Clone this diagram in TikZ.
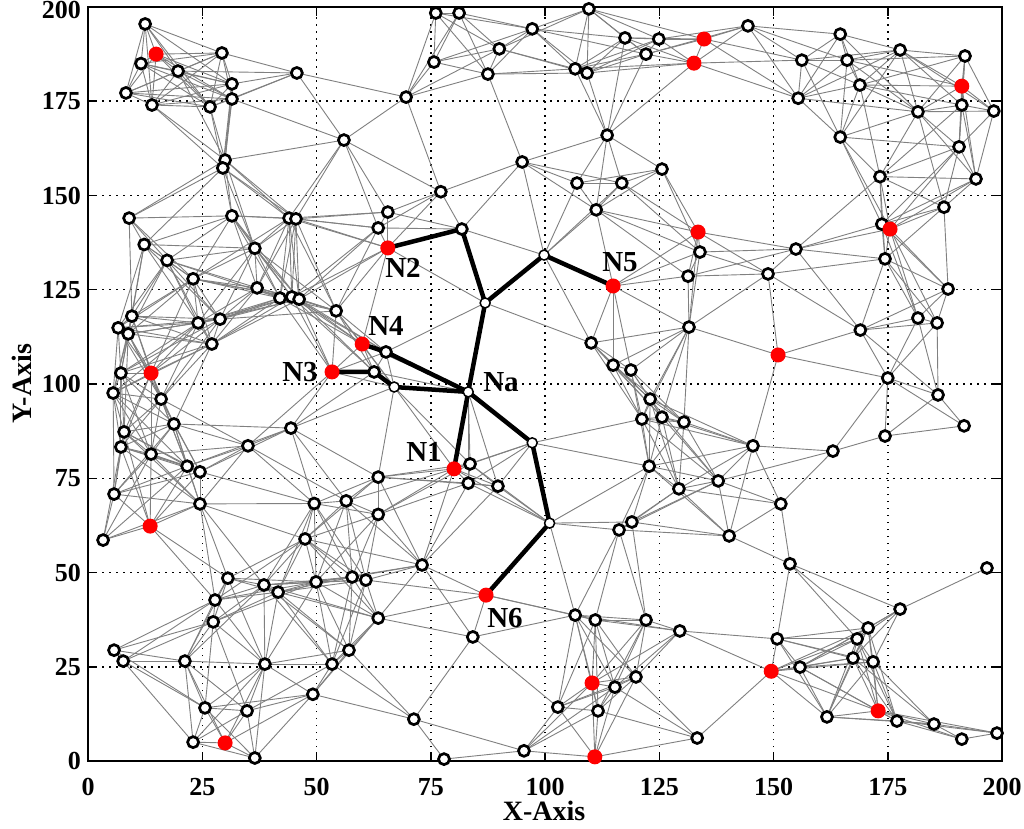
\documentclass[tikz,border=0pt]{standalone}
\usepackage{fontspec}
\setmainfont{Liberation Serif}
\newdimen\ddx \newdimen\ddy \newdimen\ddd
\def\nodelist{12.5/195.5/o, 14.9/187.5/r, 11.6/185/o, 19.7/183/o, 29.3/187.8/o, 31.5/179.6/o, 31.5/175.6/o, 26.7/173.5/o, 14/174/o, 8.3/177.2/o,
45.7/182.5/o, 30/159.4/o, 29.5/157.3/o, 9/144/o, 31.5/144.6/o, 44/144/o, 45.5/143.8/o, 12.3/137/o, 36.5/136/o, 17.3/132.8/o,
76.1/198.4/o, 81.2/198.4/o, 97.2/194.2/o, 90/188.9/o, 75.7/185.4/o, 87.5/182.2/o, 69.6/176.1/o, 56/164.7/o, 95/158.9/o, 77.2/151/o,
65.6/145.6/o, 63.5/141.4/o, 65.6/136.1/r, 81.8/141.1/o, 99.8/134.2/p, 109.6/199.5/o, 117.5/191.8/o, 124.9/191.5/o, 134.8/191.5/r, 122.1/187.5/o,
132.6/185.1/r, 144.4/195/o, 106.6/183.6/o, 109.2/182.5/o, 113.6/166/o, 125.6/157/o, 107/153.3/o, 116.8/153.3/o, 111.2/146.2/o, 133.5/140.3/r,
133.9/135/o, 164.6/192.8/o, 177.7/188.6/o, 191.9/187/o, 156.2/185.9/o, 166.1/185.9/o, 168.9/179.3/o, 191.2/179/r, 155.4/175.8/o, 191.2/174/o,
181.6/172.2/o, 198.2/172.4/o, 164.6/165.5/o, 190.6/162.9/o, 173.3/155/o, 194.3/154.4/o, 187.3/146.9/o, 173.7/142.4/o, 175.5/141.1/r, 154.9/135.8/o,
174.4/133.2/o, 23/127.9/o, 37/125.5/o, 42/122.8/o, 44.6/123.1/o, 46.2/122.5/o, 9.6/118/o, 6.6/114.9/o, 8.8/113.3/o, 24.1/116.2/o,
28.9/117.2/o, 27.1/110.6/o, 7.2/102.9/o, 13.8/102.9/r, 5.5/97.6/o, 16/96/o, 18.8/89.4/o, 7.9/87.3/o, 7.2/83.3/o, 13.8/81.4/o,
21.7/78.2/o, 24.5/76.7/o, 35/83.6/o, 44.4/88.3/o, 5.7/70.8/o, 24.5/68.2/o, 49.5/68.3/o, 54.3/119.4/o, 60/110.6/r, 65.2/108.5/o,
53.4/103.2/r, 62.6/103.2/o, 67/99.2/p, 83.2/97.9/p, 86.9/121.5/p, 97.2/84.4/p, 80.1/77.5/r, 83.6/78.8/o, 83.2/73.7/o, 89.7/72.9/o,
63.5/75.3/o, 56.5/69/o, 63.5/65.4/o, 114.9/126/r, 131.3/128.6/o, 148.8/129.2/o, 131.5/115.1/o, 151/107.7/r, 110.1/110.9/o, 114.9/105/o,
118.8/103.7/o, 123/96/o, 121.2/90.7/o, 125.6/91.2/o, 130.4/89.9/o, 145.5/83.6/o, 122.8/78.2/o, 137.9/74.3/o, 129.3/72.2/o, 151.6/68.2/o,
188.2/125.2/o, 181.6/117.5/o, 185.8/116.2/o, 169/114.3/o, 175/101.6/o, 186/97.1/o, 191.7/88.9/o, 174.4/86.2/o, 163/82.2/o, 13.6/62.3/r,
3.3/58.6/o, 47.5/58.9/o, 30.6/48.5/o, 38.5/46.7/o, 41.6/44.8/o, 49.9/47.5/o, 27.8/42.7/o, 27.4/36.9/o, 5.7/29.4/o, 7.7/26.5/o,
21.2/26.5/o, 38.7/25.7/o, 49.2/17.7/o, 25.6/14.1/o, 34.8/13.3/o, 23/5/o, 30/4.8/r, 36.5/0.8/o, 73.1/52/o, 87.1/44/r,
63.5/37.9/o, 57.8/48.8/o, 60.8/48/o, 84.2/32.9/o, 57.1/29.4/o, 53.4/25.7/o, 71.3/11.1/o, 77.9/0.5/o, 95.4/2.7/o, 101/63.1/p,
119/63.4/o, 116.2/61.3/o, 140.3/59.7/o, 106.6/38.7/o, 111/37.4/o, 122.1/37.4/o, 129.5/34.5/o, 150.8/32.4/o, 149.5/23.8/r, 110.3/20.7/r,
119.9/22.3/o, 115.3/19.6/o, 102.8/14.3/o, 111.6/13.3/o, 133.3/6.1/o, 110.9/1.1/r, 153.6/52.3/o, 196.7/51.2/o, 177.7/40.3/o, 170.7/35.3/o,
168.3/32.4/o, 167.4/27.3/o, 171.8/26.3/o, 155.8/24.9/o, 172.9/13.3/r, 161.7/11.7/o, 177/10.6/o, 185.1/9.8/o, 191.2/5.8/o, 198.9/7.4/o}
\definecolor{edgegray}{RGB}{128,128,128}
\begin{document}
\begin{tikzpicture}[x=1pt,y=1pt,
  edge/.style={draw=edgegray, line width=0.9pt},
  griddot/.style={draw=black, line width=1.5pt, dash pattern=on 1.5pt off 5.5pt},
  tickline/.style={draw=black, line width=1.5pt},
  thickpath/.style={draw=black, line width=4.5pt, line join=round, line cap=round},
  mko/.style={circle, draw=black, fill=white, line width=2.7pt, minimum size=11pt, inner sep=0pt},
  mkr/.style={circle, fill=red, minimum size=15pt, inner sep=0pt},
  mkp/.style={circle, draw=black, fill=white, line width=1.5pt, minimum size=10pt, inner sep=0pt},
  ticklab/.style={font=\fontsize{26}{28}\selectfont\bfseries, inner sep=0pt},
  axlab/.style={font=\fontsize{28}{30}\selectfont\bfseries, inner sep=0pt},
  nlab/.style={font=\fontsize{29}{30}\selectfont\bfseries, inner sep=0pt}]
\useasboundingbox (0,0) rectangle (1024,828);
\fill[white] (0,0) rectangle (1024,828);
% grid
\foreach \k in {1,...,7} {
  \draw[griddot] ({88+114.25*\k},67) -- ({88+114.25*\k},821);
  \draw[griddot] (88,{67+94.25*\k}) -- (1002,{67+94.25*\k});
}
% ticks
\foreach \k in {1,...,7} {
  \draw[tickline] ({88+114.25*\k},67) -- ({88+114.25*\k},76);
  \draw[tickline] ({88+114.25*\k},821) -- ({88+114.25*\k},812);
  \draw[tickline] (88,{67+94.25*\k}) -- (97,{67+94.25*\k});
  \draw[tickline] (1002,{67+94.25*\k}) -- (993,{67+94.25*\k});
}
\draw[line width=2pt] (88,67) rectangle (1002,821);
% tick labels
\foreach \k/\lab in {0/0,1/25,2/50,3/75,4/100,5/125,6/150,7/175} {
  \node[ticklab] (xt\k) at ({88+114.25*\k},41) {\lab};
  \node[ticklab, anchor=east] (yt\k) at (81,{67+94.25*\k}) {\lab};
}
\node[ticklab] (xt8) at (1002,41) {200};
\node[ticklab, anchor=north east] (yt8) at (81,827) {200};
\node[axlab] (xax) at (544,17) {X-Axis};
\node[axlab, rotate=90] (yax) at (22,444) {Y-Axis};
\begin{scope}[shift={(88pt,67pt)}, x=4.57pt, y=3.77pt]
  \foreach [count=\k] \u/\v/\t in \nodelist {
    \coordinate (n\k) at (\u,\v);
    \expandafter\xdef\csname nu\k\endcsname{\u}%
    \expandafter\xdef\csname nv\k\endcsname{\v}%
    \expandafter\xdef\csname nt\k\endcsname{\t}%
  }
  \foreach \i in {1,...,199} {
    \pgfmathtruncatemacro\js{\i+1}
    \foreach \j in {\js,...,200} {
      \ddx=\csname nu\i\endcsname pt
      \advance\ddx by -\csname nu\j\endcsname pt
      \ifdim\ddx<0pt \ddx=-\ddx\fi
      \ifdim\ddx<27pt
        \ddy=\csname nv\i\endcsname pt
        \advance\ddy by -\csname nv\j\endcsname pt
        \ifdim\ddy<0pt \ddy=-\ddy\fi
        \ifdim\ddy<27pt
          \ddd=\dimexpr \ddx*\number\ddx/65536+\ddy*\number\ddy/65536\relax
          \ifdim\ddd<729pt \draw[edge] (n\i) -- (n\j);\fi
        \fi
      \fi
    }
  }
  \draw[thickpath] (n33) -- (n34) -- (n105) -- (n104);
  \draw[thickpath] (n114) -- (n35) -- (n105);
  \draw[thickpath] (n99) -- (n100) -- (n104);
  \draw[thickpath] (n101) -- (n102) -- (n103) -- (n104);
  \draw[thickpath] (n107) -- (n104) -- (n106) -- (n170) -- (n160);
  \foreach \k in {1,...,200} {
    \edef\tmp{\noexpand\node[mk\csname nt\k\endcsname] (m\k) at (n\k) {};}\tmp
  }
\end{scope}
\node[nlab] (lN2) at (403,560) {N2};
\node[nlab] (lN5) at (620,566) {N5};
\node[nlab] (lN4) at (386,502) {N4};
\node[nlab] (lN3) at (300,456) {N3};
\node[nlab] (lNa) at (501,446) {Na};
\node[nlab] (lN1) at (424,376) {N1};
\node[nlab] (lN6) at (505,210) {N6};
\end{tikzpicture}
\end{document}
